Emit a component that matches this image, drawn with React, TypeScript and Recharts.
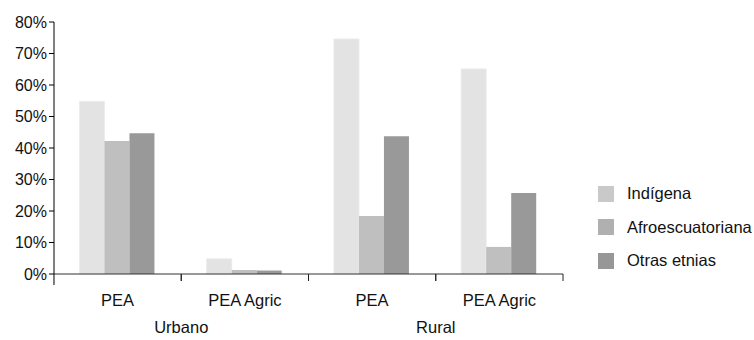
import React from 'react';
import { BarChart, Bar, XAxis, YAxis, Legend } from 'recharts';

const categories = ['PEA', 'PEA Agric', 'PEA', 'PEA Agric'];
const groups = ['Urbano', 'Urbano', 'Rural', 'Rural'];
const indigena = [54.8, 4.8, 74.6, 65.1];
const afroecuatoriana = [42.2, 1.3, 18.4, 8.6];
const otrasEtnias = [44.7, 1.1, 43.7, 25.7];
const yTicks = [0, 10, 20, 30, 40, 50, 60, 70, 80];

const seriesNames = ['Indígena', 'Afroescuatoriana', 'Otras etnias'];
const barColors = ['#e3e3e3', '#bfbfbf', '#999999'];
const legendColors = ['#c9c9c9', '#b0b0b0', '#979797'];

const data = categories.map((c, i) => ({
  name: c,
  group: groups[i],
  indigena: indigena[i],
  afro: afroecuatoriana[i],
  otras: otrasEtnias[i],
}));

const FONT = 'Liberation Sans, Arial, sans-serif';

const CategoryTick = (props: any) => {
  const { x, y, payload, index } = props;
  const band = 127.3;
  const left = x - band / 2;
  const right = x + band / 2;
  const showGroup = index === 0 || index === 2;
  return (
    <g>
      {index > 0 && <line x1={left} x2={left} y1={y - 8} y2={y - 1} stroke="#222" />}
      {index === 0 && <line x1={left} x2={left} y1={y - 8} y2={y + 3} stroke="#000" />}
      <line x1={right} x2={right} y1={y - 8} y2={y - 1} stroke="#222" />
      <text x={x} y={y + 24} textAnchor="middle" fontSize={16.5} fill="#111" fontFamily={FONT}>
        {payload.value}
      </text>
      {showGroup && (
        <text x={right} y={y + 51} textAnchor="middle" fontSize={16.5} fill="#111" fontFamily={FONT}>
          {groups[index]}
        </text>
      )}
    </g>
  );
};

const LegendContent = () => (
  <div style={{ fontFamily: FONT, fontSize: 16.5, color: '#111' }}>
    {seriesNames.map((n, i) => (
      <div key={n} style={{ display: 'flex', alignItems: 'center', height: 33.5 }}>
        <span style={{ width: 16, height: 16, background: legendColors[i], display: 'inline-block', marginRight: 13 }} />
        <span>{n}</span>
      </div>
    ))}
  </div>
);

export default function App() {
  return (
    <div>
      <style>{`body{margin:0}`}</style>
      <BarChart
        width={754}
        height={340}
        data={data}
        margin={{ top: 22, right: 191, left: 0, bottom: 36 }}
        barCategoryGap="20%"
        barGap={0}
      >
        <XAxis
          dataKey="name"
          height={30}
          axisLine={{ stroke: '#333' }}
          tickLine={false}
          interval={0}
          tick={<CategoryTick />}
        />
        <YAxis
          width={54}
          domain={[0, 80]}
          ticks={yTicks}
          tickFormatter={(v: number) => `${v}%`}
          axisLine={{ stroke: '#000' }}
          tickLine={{ stroke: '#000' }}
          tickSize={5}
          tick={{ fontSize: 16, fill: '#111', fontFamily: FONT }}
        />
        <Legend
          layout="vertical"
          align="center"
          verticalAlign="middle"
          content={<LegendContent />}
          wrapperStyle={{ left: 598, top: 177, width: 160 }}
        />
        <Bar dataKey="indigena" name={seriesNames[0]} fill={barColors[0]} stroke="#ebebeb" isAnimationActive={false} />
        <Bar dataKey="afro" name={seriesNames[1]} fill={barColors[1]} isAnimationActive={false} />
        <Bar dataKey="otras" name={seriesNames[2]} fill={barColors[2]} isAnimationActive={false} />
      </BarChart>
    </div>
  );
}
